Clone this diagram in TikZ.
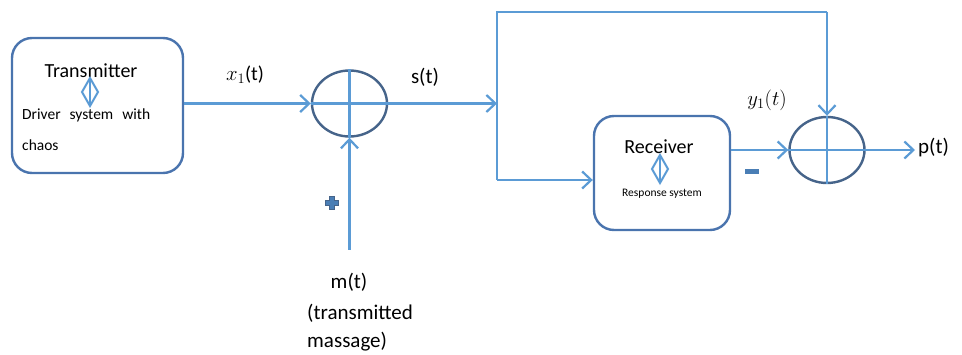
\documentclass[tikz,border=0pt]{standalone}
\usepackage{fontspec}
\setmainfont{Carlito}
\usetikzlibrary{arrows.meta,shapes.geometric,calc}
\definecolor{lineblue}{HTML}{5B9BD5}
\definecolor{boxblue}{HTML}{4A74AE}
\definecolor{circblue}{HTML}{46648A}
\definecolor{signblue}{HTML}{4A7EB5}
\tikzset{
  conn/.style={draw=lineblue, line width=2.2pt},
  arr/.style={conn, -{Straight Barb[length=9pt,width=17pt,line width=2.2pt]}},
  blockbox/.style={draw=boxblue, line width=2.4pt, rounded corners=20pt, fill=white},
  sumnode/.style={ellipse, draw=circblue, line width=2.4pt, minimum width=75pt, minimum height=66pt, inner sep=0pt},
  lbl/.style={font=\fontsize{21}{24}\selectfont, inner sep=0pt},
  mlbl/.style={font=\fontsize{20}{24}\selectfont, inner sep=0pt},
  big/.style={font=\fontsize{20}{24}\selectfont, inner sep=0pt},
  small/.style={font=\fontsize{15.5}{18}\selectfont, inner sep=0pt},
  tiny/.style={font=\fontsize{11.5}{14}\selectfont, inner sep=0pt},
}
\newcommand{\dbarrow}[1]{%
  \draw[draw=lineblue, line width=2pt] ($(#1)+(0,-14)$) -- ($(#1)+(8,0)$) -- ($(#1)+(0,14)$) -- ($(#1)+(-8,0)$) -- cycle;
  \draw[draw=lineblue, line width=1.6pt] ($(#1)+(0,-14)$) -- ($(#1)+(0,14)$);}
\begin{document}
\begin{tikzpicture}[x=1pt, y=-1pt]
\useasboundingbox (0,0) rectangle (962,355);
% blocks
\node[blockbox, minimum width=171pt, minimum height=135pt] (tx) at (97.5,105.5) {};
\node[blockbox, minimum width=136pt, minimum height=114pt] (rx) at (662,173) {};
\node[big] (txt) at (91,71) {Transmitter};
\coordinate (dtx) at (90,92);
\dbarrow{dtx}
\node[small, anchor=west] (drv) at (22,115) {Driver\hspace{9pt}system\hspace{9pt}with};
\node[small, anchor=west] (chs) at (22,145) {chaos};
\node[big] (rxt) at (659,147) {Receiver};
\coordinate (drx) at (660,169);
\dbarrow{drx}
\node[tiny] (rsp) at (662,194) {Response system};
% summing junctions
\node[sumnode] (c1) at (349.5,103.5) {};
\node[sumnode] (c2) at (827,150) {};
\draw[conn] (c1.north) -- (c1.south) (c1.west) -- (c1.east);
\draw[conn] (c2.north) -- (c2.south) (c2.west) -- (c2.east);
% coordinates
\coordinate (j) at (497,103.5);
\coordinate (jt) at (497,12);
\coordinate (ct) at (827,12);
\coordinate (jb) at (497,180);
\coordinate (ms) at (349.5,250);
\coordinate (pout) at (915,150);
% connectors
\draw[arr] (tx.east |- c1) -- (c1.west);
\draw[arr] (c1.east) -- (j);
\draw[conn] (jb) -- (jt) -- (ct);
\draw[arr] (ct) -- (c2.north);
\draw[arr] (jb) -- (jb -| rx.west);
\draw[arr] (ms) -- (c1.south);
\draw[arr] (rx.east |- c2) -- (c2.west);
\draw[arr] (c2.east) -- (pout);
% labels
\node[mlbl] (lx) at (245,75) {$x_1$(t)};
\node[lbl] (ls) at (425,77) {s(t)};
\node[mlbl] (ly) at (767,100) {$y_1(t)$};
\node[lbl, anchor=west] (lp) at (918,148) {p(t)};
\node[lbl] (lm) at (349,282) {m(t)};
\node[lbl, anchor=west] (lm2) at (307,313) {(transmitted};
\node[lbl, anchor=west] (lm3) at (307,342) {massage)};
% signs
\node[fill=signblue, minimum width=14pt, minimum height=5pt, inner sep=0pt] (minus) at (752,172) {};
\node[draw=circblue, fill=signblue, line width=0.6pt, minimum width=13pt, minimum height=4.5pt, inner sep=0pt] (plh) at (332,203) {};
\node[draw=circblue, fill=signblue, line width=0.6pt, minimum width=4.5pt, minimum height=13pt, inner sep=0pt] (plv) at (332,203) {};
\node[fill=signblue, minimum width=12pt, minimum height=3.5pt, inner sep=0pt] (plc) at (332,203) {};
\end{tikzpicture}
\end{document}
